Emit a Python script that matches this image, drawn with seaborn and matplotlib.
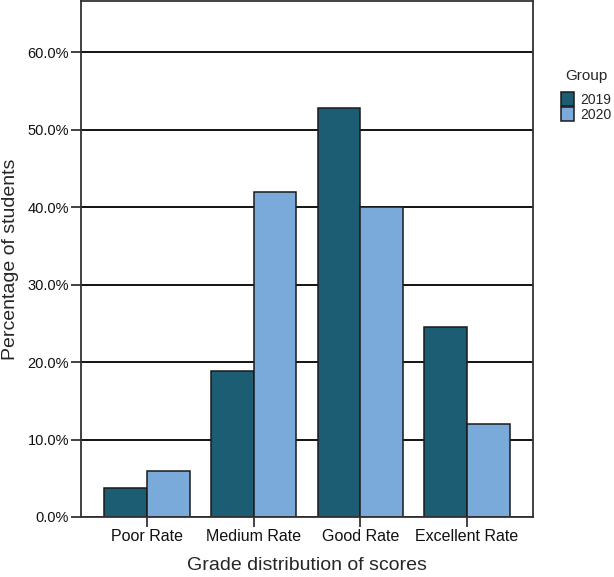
"""Grade distribution bar chart"""
import pandas as pd
import seaborn as sns
import matplotlib.pyplot as plt
from matplotlib.ticker import FuncFormatter

categories = ['Poor Rate', 'Medium Rate', 'Good Rate', 'Excellent Rate']
groups = ['2019', '2020']
pct_2019 = [3.8, 18.9, 52.8, 24.5]
pct_2020 = [6.0, 42.0, 40.0, 12.0]
palette = ['#1c5d74', '#7aaad9']

df = pd.DataFrame({
    'category': categories * 2,
    'Group': [groups[0]] * 4 + [groups[1]] * 4,
    'pct': pct_2019 + pct_2020,
})

sns.set_style('white')
plt.rcParams['font.family'] = ['Liberation Sans', 'DejaVu Sans']

fig = plt.figure(figsize=(6.14, 5.77), dpi=100)
ax = fig.add_axes([0.132, 0.104, 0.736, 0.894])
ax.set_axisbelow(True)
ax.yaxis.grid(True, color='black', linewidth=1.3)
sns.barplot(data=df, x='category', y='pct', hue='Group', palette=palette,
            width=0.8, edgecolor='#1a1a1a', linewidth=1.1, saturation=1, ax=ax)

ax.set_ylim(0, 66.6)
ax.set_xlim(-0.62, 3.62)
ax.set_yticks(range(0, 61, 10))
ax.yaxis.set_major_formatter(FuncFormatter(lambda v, p: f'{v:.1f}%'))
ax.tick_params(axis='both', which='both', direction='out', length=7, width=1.2,
               color='#222222', labelcolor='#111111', pad=1.5,
               left=True, bottom=True)
ax.tick_params(axis='y', labelsize=10.5)
ax.tick_params(axis='x', labelsize=11.5)
for s in ax.spines.values():
    s.set_color('#333333')
    s.set_linewidth(1.3)

ax.set_xlabel('Grade distribution of scores', fontsize=14)
ax.set_ylabel('Percentage of students', fontsize=14)
ax.yaxis.set_label_coords(-0.137, 0.5)
ax.xaxis.set_label_coords(0.5, -0.078)

leg = ax.legend(title='Group', loc='upper left', bbox_to_anchor=(0.913, 0.881),
                bbox_transform=fig.transFigure, frameon=False, fontsize=10,
                title_fontsize=11, handlelength=0.95, handleheight=1.15,
                handletextpad=0.45, labelspacing=0.0, borderaxespad=0,
                borderpad=0)
leg._legend_box.sep = 7

plt.savefig('out.png', dpi=100)
plt.close()
